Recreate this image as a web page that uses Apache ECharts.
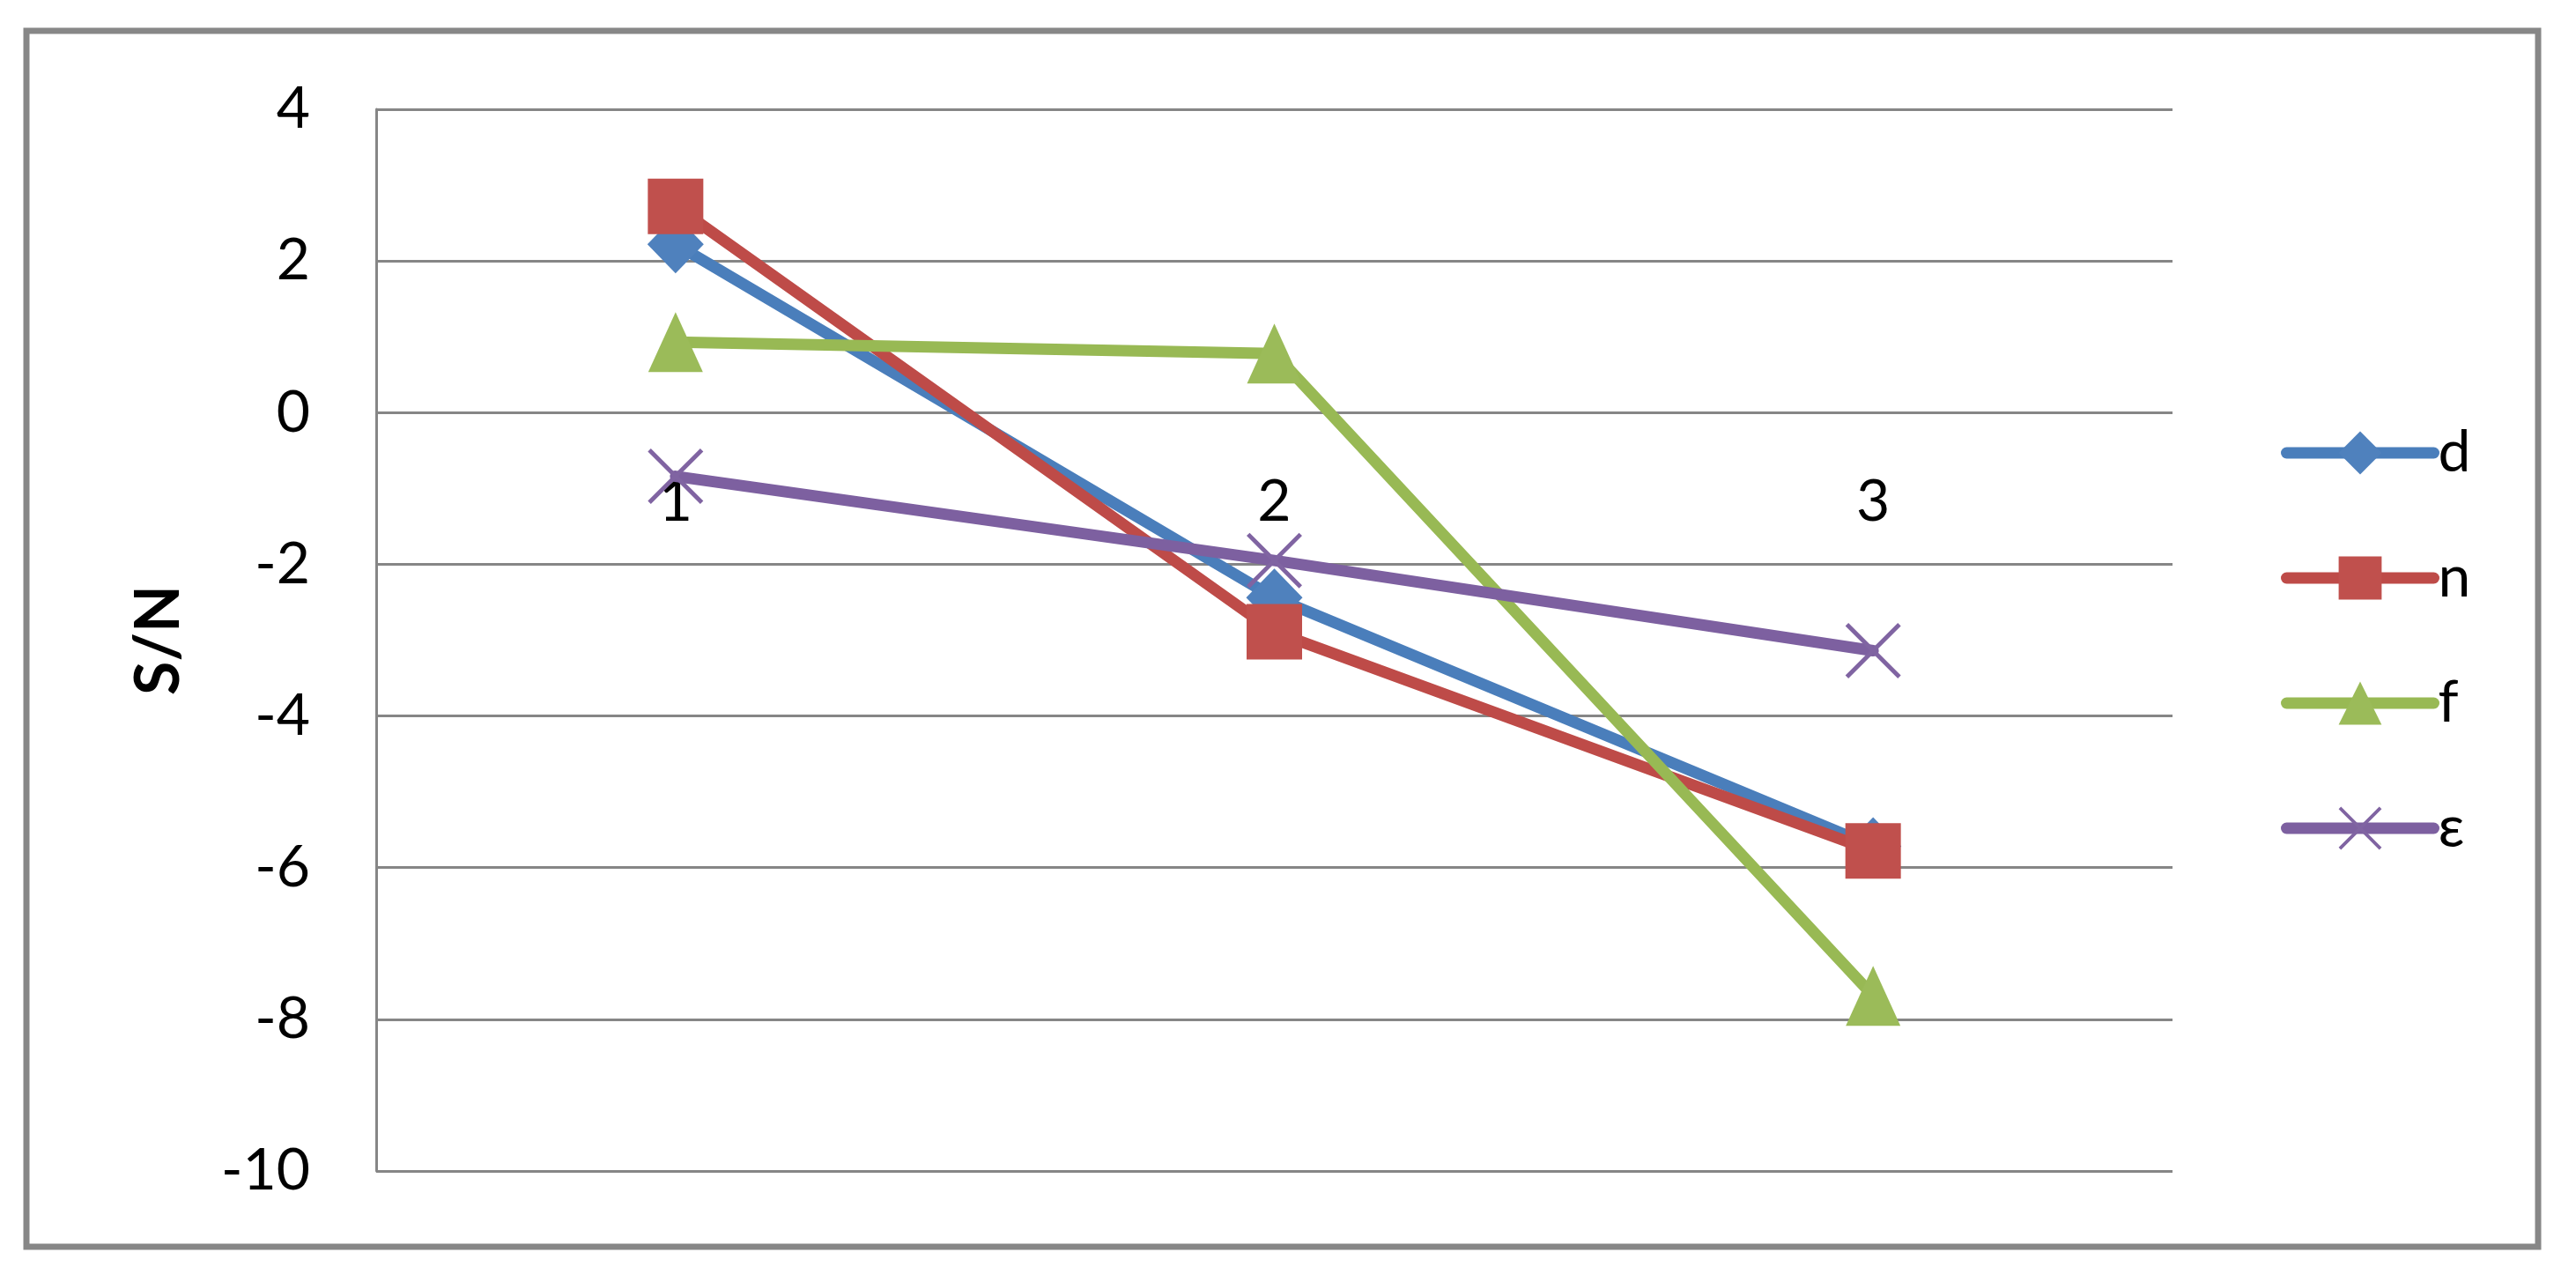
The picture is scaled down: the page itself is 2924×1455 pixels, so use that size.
<!DOCTYPE html>
<html>
<head>
<meta charset="utf-8">
<script src="https://cdn.jsdelivr.net/npm/echarts@6/dist/echarts.min.js"></script>
<style>
  html, body { margin: 0; padding: 0; background: #ffffff; }
  #chart { width: 2924px; height: 1455px; }
</style>
</head>
<body>
<div id="chart"></div>
<script>
// ---- data ----
const categories = ['1', '2', '3'];
const seriesNames = ['d', 'n', 'f', 'ε'];
const dValues = [2.22, -2.44, -5.72];
const nValues = [2.72, -2.89, -5.78];
const fValues = [0.93, 0.78, -7.69];
const epsValues = [-0.84, -1.95, -3.14];
const yTicks = { min: -10, max: 4, interval: 2 };
const yAxisTitle = 'S/N';

// ---- layout / styles ----
const FONT = 'Lato, "Liberation Sans", sans-serif';
const GRID = { left: 427, right: 458, top: 124, bottom: 126 };
const PLOT_H = 1455 - GRID.top - GRID.bottom;
// category axis crosses the value axis at 0 (as in the original chart)
const xAxisOffset = -PLOT_H * (0 - yTicks.min) / (yTicks.max - yTicks.min);

const lineColors = ['#4A7EBB', '#BE4B48', '#98B954', '#7D60A0'];
const markColors = ['#4F81BD', '#C0504D', '#9BBB59', '#8064A2'];
const X_PATH = 'path://M0,0.55 L0.55,0 L5,4.45 L9.45,0 L10,0.55 L5.55,5 L10,9.45 L9.45,10 L5,5.55 L0.55,10 L0,9.45 L4.45,5 Z';
const symbols = ['diamond', 'rect', 'triangle', X_PATH];
const symbolSizes = [[64, 66], 63, [62, 68], 63];
const valueLists = [dValues, nValues, fValues, epsValues];

const chart = echarts.init(document.getElementById('chart'), null, { renderer: 'canvas' });

const series = seriesNames.map((name, i) => ({
  name: name,
  type: 'line',
  data: valueLists[i],
  symbol: symbols[i],
  symbolSize: symbolSizes[i],
  showAllSymbol: true,
  lineStyle: { color: lineColors[i], width: 13, cap: 'round', join: 'round' },
  itemStyle: { color: markColors[i] },
  emphasis: { disabled: true },
  z: 2 + i
}));

const option = {
  animation: false,
  backgroundColor: '#ffffff',
  grid: Object.assign({ containLabel: false }, GRID),
  xAxis: {
    type: 'category',
    data: categories,
    boundaryGap: true,
    position: 'bottom',
    offset: xAxisOffset,
    axisLine: { show: false, onZero: false },
    axisTick: { show: false },
    splitLine: { show: false },
    axisLabel: {
      margin: 68,
      fontFamily: FONT,
      fontSize: 66,
      lineHeight: 66,
      color: '#000000'
    },
    z: 1
  },
  yAxis: {
    type: 'value',
    min: yTicks.min,
    max: yTicks.max,
    interval: yTicks.interval,
    name: yAxisTitle,
    nameLocation: 'middle',
    nameRotate: 90,
    nameGap: 212,
    nameTextStyle: {
      fontFamily: FONT,
      fontSize: 70,
      lineHeight: 70,
      fontWeight: 'bold',
      color: '#000000'
    },
    axisLine: { show: true, onZero: false, lineStyle: { color: '#868686', width: 3 } },
    axisTick: { show: false },
    splitLine: { show: true, lineStyle: { color: '#868686', width: 3 } },
    axisLabel: {
      margin: 75,
      fontFamily: FONT,
      fontSize: 66,
      lineHeight: 66,
      color: '#000000'
    }
  },
  legend: {
    orient: 'vertical',
    left: 2584,
    top: 476,
    itemWidth: 167,
    itemHeight: 61,
    itemGap: 76,
    data: seriesNames,
    lineStyle: { width: 13 },
    textStyle: {
      fontFamily: FONT,
      fontSize: 66,
      lineHeight: 61,
      color: '#000000'
    }
  },
  graphic: [{
    type: 'rect',
    shape: { x: 30, y: 35, width: 2851, height: 1380 },
    style: { fill: null, stroke: '#878787', lineWidth: 7 },
    silent: true,
    z: 0
  }],
  series: series
};

chart.setOption(option);
</script>
</body>
</html>
